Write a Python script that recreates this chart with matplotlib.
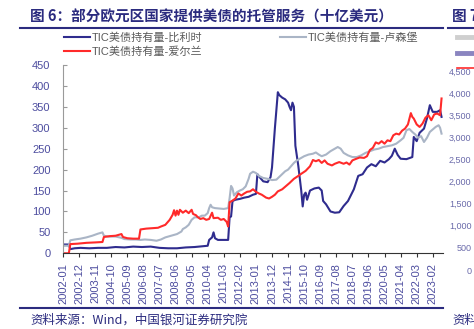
import pandas as pd
import matplotlib
matplotlib.use('Agg')
import matplotlib.pyplot as plt
from matplotlib.lines import Line2D
from matplotlib.ticker import FuncFormatter

plt.rcParams['font.family'] = ['Liberation Sans', 'Noto Sans CJK SC', 'DejaVu Sans']

# TIC美债持有量（十亿美元），数值读图估计
belgium_dates = ["2002-01", "2002-05", "2002-06", "2002-09", "2003-01", "2003-07", "2004-01", "2004-07",
                 "2005-01", "2005-07", "2006-01", "2006-07", "2007-01", "2007-07", "2008-01", "2008-07",
                 "2009-01", "2009-07", "2010-01", "2010-04", "2010-05", "2010-07", "2010-08", "2010-09",
                 "2010-11", "2011-03", "2011-06", "2011-07", "2011-08", "2011-09", "2011-11", "2012-02",
                 "2012-05", "2012-08", "2012-11", "2013-01", "2013-02", "2013-04", "2013-06", "2013-09",
                 "2013-11", "2013-12", "2014-02", "2014-04", "2014-05", "2014-07", "2014-09", "2014-11",
                 "2014-12", "2015-01", "2015-02", "2015-03", "2015-04", "2015-06", "2015-08", "2015-09",
                 "2015-10", "2015-11", "2015-12", "2016-02", "2016-05", "2016-08", "2016-10", "2016-11",
                 "2017-01", "2017-04", "2017-07", "2017-10", "2018-01", "2018-04", "2018-08", "2018-11",
                 "2019-02", "2019-05", "2019-08", "2019-11", "2020-02", "2020-05", "2020-08", "2020-10",
                 "2020-12", "2021-02", "2021-04", "2021-08", "2021-12", "2022-01", "2022-03", "2022-05",
                 "2022-08", "2022-10", "2022-12", "2023-02", "2023-05", "2023-07", "2023-08"]
belgium_vals = [21, 21, 10, 12, 13, 12, 13, 13,
                15, 14, 16, 15, 16, 13, 12, 12,
                14, 15, 17, 18, 32, 38, 50, 36,
                32, 32, 32, 86, 88, 125, 128, 130,
                133, 135, 140, 142, 189, 180, 172, 170,
                182, 205, 300, 385, 378, 372, 368, 360,
                350, 342, 360, 350, 257, 209, 150, 112,
                140, 145, 128, 150, 155, 157, 150, 125,
                117, 100, 97, 98, 113, 125, 153, 185,
                189, 205, 213, 208, 221, 217, 225, 233,
                250, 235, 226, 225, 230, 278, 268, 288,
                298, 322, 354, 338, 338, 342, 326]

lux_dates = ["2002-01", "2002-05", "2002-06", "2002-09", "2003-01", "2003-05", "2003-09", "2004-01",
             "2004-04", "2004-05", "2004-08", "2005-01", "2005-05", "2005-07", "2005-11", "2006-03",
             "2006-06", "2006-09", "2007-01", "2007-05", "2007-08", "2007-11", "2008-03", "2008-07",
             "2008-10", "2008-11", "2009-01", "2009-03", "2009-05", "2009-07", "2009-10", "2009-12",
             "2010-02", "2010-04", "2010-05", "2010-06", "2010-07", "2010-09", "2010-12", "2011-03",
             "2011-06", "2011-07", "2011-08", "2011-09", "2011-10", "2011-12", "2012-02", "2012-04",
             "2012-06", "2012-08", "2012-09", "2012-11", "2013-01", "2013-03", "2013-06", "2013-09",
             "2013-12", "2014-03", "2014-06", "2014-09", "2014-11", "2015-01", "2015-03", "2015-05",
             "2015-07", "2015-10", "2016-01", "2016-04", "2016-06", "2016-08", "2016-10", "2017-01",
             "2017-04", "2017-07", "2017-09", "2017-11", "2018-01", "2018-04", "2018-07", "2018-10",
             "2019-01", "2019-04", "2019-07", "2019-10", "2020-01", "2020-04", "2020-07", "2020-10",
             "2021-01", "2021-04", "2021-06", "2021-08", "2021-10", "2021-12", "2022-02", "2022-04",
             "2022-06", "2022-08", "2022-10", "2022-12", "2023-02", "2023-04", "2023-06", "2023-07",
             "2023-08"]
lux_vals = [18, 18, 31, 33, 35, 38, 42, 47,
            50, 42, 40, 40, 37, 34, 33, 33,
            32, 33, 32, 30, 33, 38, 42, 46,
            52, 58, 62, 68, 80, 86, 86, 90,
            90, 96, 108, 116, 110, 108, 107, 106,
            108, 132, 161, 155, 138, 146, 150, 153,
            160, 178, 190, 195, 192, 185, 180, 178,
            175, 176, 186, 196, 200, 208, 216, 222,
            226, 232, 236, 238, 241, 236, 232, 236,
            244, 250, 254, 250, 240, 234, 230, 230,
            234, 240, 244, 248, 250, 254, 256, 258,
            262, 270, 276, 294, 297, 290, 284, 276,
            280, 266, 276, 290, 296, 302, 306, 300,
            286]

ireland_dates = ["2002-01", "2002-05", "2002-06", "2002-11", "2003-05", "2003-11", "2004-04", "2004-05",
                 "2004-09", "2005-01", "2005-05", "2005-06", "2005-09", "2006-01", "2006-05", "2006-06",
                 "2006-10", "2007-02", "2007-06", "2007-08", "2007-11", "2008-02", "2008-04", "2008-05",
                 "2008-06", "2008-07", "2008-08", "2008-09", "2008-11", "2009-01", "2009-03", "2009-05",
                 "2009-06", "2009-08", "2009-09", "2009-11", "2010-01", "2010-03", "2010-05", "2010-07",
                 "2010-08", "2010-11", "2011-01", "2011-03", "2011-05", "2011-06", "2011-07", "2011-09",
                 "2011-11", "2012-01", "2012-03", "2012-05", "2012-07", "2012-09", "2012-11", "2013-01",
                 "2013-03", "2013-05", "2013-08", "2013-10", "2013-12", "2014-02", "2014-04", "2014-07",
                 "2014-10", "2014-12", "2015-03", "2015-06", "2015-08", "2015-11", "2016-02", "2016-04",
                 "2016-06", "2016-08", "2016-10", "2016-12", "2017-02", "2017-05", "2017-07", "2017-10",
                 "2018-01", "2018-03", "2018-05", "2018-07", "2018-09", "2018-12", "2019-03", "2019-05",
                 "2019-07", "2019-09", "2019-11", "2020-01", "2020-03", "2020-05", "2020-07", "2020-09",
                 "2020-11", "2021-01", "2021-03", "2021-05", "2021-07", "2021-09", "2021-11", "2021-12",
                 "2022-01", "2022-03", "2022-05", "2022-07", "2022-09", "2022-11", "2023-01", "2023-03",
                 "2023-05", "2023-07", "2023-08"]
ireland_vals = [0, 0, 22, 23, 25, 26, 27, 39,
                41, 42, 46, 39, 36, 35, 35, 57,
                59, 60, 61, 64, 68, 80, 92, 103,
                90, 102, 92, 104, 97, 102, 96, 104,
                94, 91, 87, 82, 84, 80, 82, 97,
                84, 85, 80, 82, 75, 64, 122, 126,
                131, 143, 138, 143, 147, 148, 153, 147,
                143, 140, 133, 131, 135, 140, 148, 153,
                162, 168, 178, 185, 190, 197, 208, 223,
                220, 223, 216, 222, 214, 210, 214, 218,
                214, 217, 212, 222, 225, 229, 228, 232,
                247, 252, 265, 262, 268, 262, 270, 268,
                282, 286, 284, 293, 298, 308, 335, 326,
                322, 308, 302, 310, 324, 330, 318, 332,
                334, 330, 370]

labels = ["TIC美债持有量-比利时", "TIC美债持有量-卢森堡", "TIC美债持有量-爱尔兰"]
colors = ["#2F2C8E", "#AAB5C6", "#FF2A2A"]

title_color = "#2B2B7F"
tick_color = "#4D4D9F"


def month_idx(dates):
    p = pd.PeriodIndex(dates, freq='M')
    return (p.year - 2002) * 12 + (p.month - 1)


W, H = 474, 329
fig = plt.figure(figsize=(W / 100, H / 100), dpi=100)
ax = fig.add_axes([63 / W, 1 - 253.3 / H, 380 / W, 188.3 / H])

l1, = ax.plot(month_idx(belgium_dates), belgium_vals, color=colors[0], lw=1.5, label=labels[0])
l2, = ax.plot(month_idx(lux_dates), lux_vals, color=colors[1], lw=1.5, label=labels[1])
l3, = ax.plot(month_idx(ireland_dates), ireland_vals, color=colors[2], lw=1.5, label=labels[2])

ax.set_xlim(0, 260)
ax.set_ylim(0, 450)
ax.set_yticks(range(0, 451, 50))
xt = list(range(0, 254, 11))
ax.set_xticks(xt)
ax.set_xticklabels([f"{2002 + t // 12}-{t % 12 + 1:02d}" for t in xt], rotation=90)

for s in ['top', 'right']:
    ax.spines[s].set_visible(False)
ax.spines['left'].set_color('#9A9A9A')
ax.spines['left'].set_linewidth(0.8)
ax.spines['bottom'].set_color('#333333')
ax.spines['bottom'].set_linewidth(0.8)
ax.tick_params(axis='y', direction='in', length=3, color='#9A9A9A', labelsize=8,
               labelcolor=tick_color, pad=9)
ax.tick_params(axis='x', direction='out', length=3, color='#333333', labelsize=8,
               labelcolor=tick_color, pad=4)
ax.patch.set_visible(False)

fig.legend([l1, l3, l2], [labels[0], labels[2], labels[1]], ncol=2, loc='upper left',
           bbox_to_anchor=(64 / W, 1 - 32 / H), frameon=False, fontsize=8,
           handlelength=2.3, handletextpad=0.2, columnspacing=7, labelspacing=0.35,
           borderpad=0, borderaxespad=0, labelcolor='#5A5A5A')

# 标题与分隔线
fig.text(30 / W, 1 - 16.5 / H, "图 6：部分欧元区国家提供美债的托管服务（十亿美元）",
         fontsize=10.5, fontweight='bold', color=title_color, va='center',
         family=['Noto Sans CJK SC'])
fig.add_artist(Line2D([20 / W, 443 / W], [1 - 27.5 / H] * 2, color=title_color, lw=1.5))
fig.add_artist(Line2D([20 / W, 443 / W], [1 - 308 / H] * 2, color=title_color, lw=1.5))
fig.text(30 / W, 1 - 320 / H, "资料来源：Wind，中国银河证券研究院", fontsize=9,
         style='italic', color=title_color, va='center', family=['Noto Sans CJK SC'])

# 右侧被裁切的图7
fig.text(452 / W, 1 - 16.5 / H, "图 7：", fontsize=10.5, fontweight='bold',
         color=title_color, va='center', family=['Noto Sans CJK SC'])
fig.add_artist(Line2D([448 / W, 1.0], [1 - 27.5 / H] * 2, color=title_color, lw=1.5))
fig.text(452 / W, 1 - 320 / H, "资料来源：Wind，中国银河证券研究院", fontsize=9,
         style='italic', color=title_color, va='center', family=['Noto Sans CJK SC'])

ax2 = fig.add_axes([477 / W, 1 - 270 / H, 0.3, 199 / H])
ax2.set_ylim(0, 4500)
ax2.set_yticks(range(0, 4501, 500))
ax2.yaxis.set_major_formatter(FuncFormatter(lambda v, p: f"{int(v):,}"))
ax2.tick_params(axis='y', length=0, labelsize=6.5, labelcolor='#6A6AAA', pad=4)
ax2.set_xticks([])
for s in ax2.spines.values():
    s.set_visible(False)
ax2.patch.set_visible(False)

h7 = [Line2D([], [], color='#CFCFCF', lw=3.5),
      Line2D([], [], color='#8A85C0', lw=3.5),
      Line2D([], [], color='#FF2A2A', lw=1.2)]
fig.legend(h7, ['', '', ''], loc='upper left', bbox_to_anchor=(457 / W, 1 - 33 / H),
           frameon=False, fontsize=6.5, handlelength=3, labelspacing=0.75,
           borderpad=0, borderaxespad=0)

fig.savefig('out.png', dpi=100)
